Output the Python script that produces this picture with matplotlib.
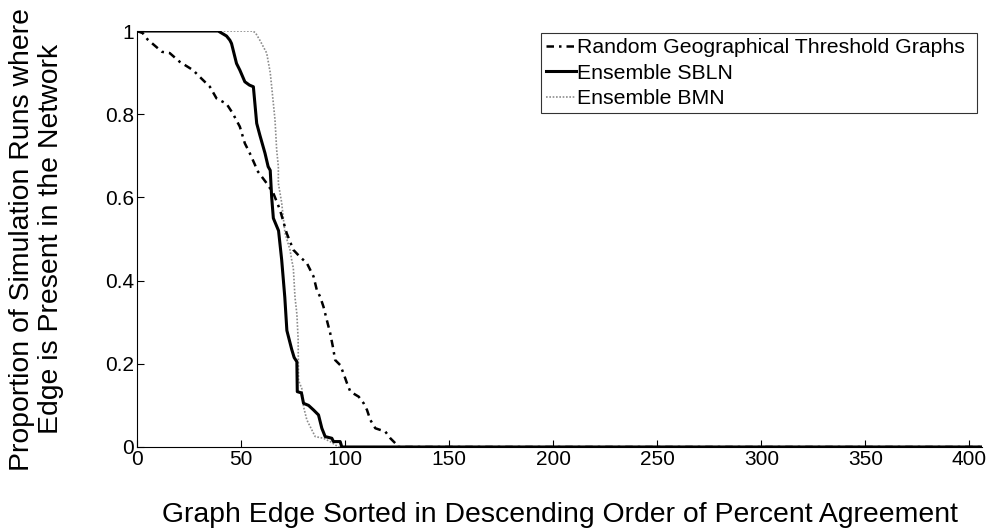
import matplotlib
matplotlib.use('Agg')
import matplotlib.pyplot as plt

plt.rcParams['font.family'] = ['Liberation Sans', 'DejaVu Sans']

N_EDGES = 406

# Random Geographical Threshold Graphs
x_rgtg = [0, 2.7, 5, 9.2, 12, 15.7, 20.5, 26.9, 30.9, 35, 38.2, 43, 46, 49.4, 51.8,
          54.2, 56.7, 57.5, 62.3, 65.5, 68.7, 71.9, 75.1, 78.3, 81.6, 84.8, 86.4, 88,
          89.6, 91.2, 92.8, 94.1, 95.2, 97.6, 99.2, 100.9, 102.5, 106.5, 108.9, 110.5,
          112.1, 114.5, 119.3, 121.7, 124.1, 125, N_EDGES]
y_rgtg = [1, 0.995, 0.98, 0.962, 0.95, 0.947, 0.926, 0.906, 0.886, 0.866, 0.838, 0.825,
          0.802, 0.77, 0.73, 0.706, 0.678, 0.666, 0.634, 0.61, 0.57, 0.514, 0.474, 0.457,
          0.442, 0.41, 0.377, 0.361, 0.337, 0.305, 0.274, 0.241, 0.209, 0.197, 0.177,
          0.153, 0.133, 0.121, 0.105, 0.089, 0.065, 0.045, 0.037, 0.021, 0.009, 0, 0]

# Ensemble SBLN
x_sbln = [0, 39, 43, 44.6, 45.4, 47.8, 49.4, 51.8, 54, 55.9, 57.5, 59, 61.5, 63, 64,
          64.7, 65.5, 68, 69.5, 71, 72, 74.3, 75.5, 76.8, 77, 79, 80, 82.4, 84.8, 87.2,
          88.8, 90.4, 93.6, 94.4, 97.6, 98.4, N_EDGES]
y_sbln = [1, 1, 0.988, 0.978, 0.97, 0.922, 0.906, 0.878, 0.87, 0.866, 0.778, 0.75,
          0.706, 0.674, 0.665, 0.60, 0.55, 0.52, 0.45, 0.36, 0.28, 0.235, 0.215, 0.205,
          0.133, 0.13, 0.105, 0.1, 0.089, 0.077, 0.045, 0.025, 0.021, 0.013, 0.013, 0, 0]

# Ensemble BMN
x_bmn = [0, 55.7, 57, 59, 62.3, 64, 64.7, 66.3, 67.1, 67.9, 67.9, 69.5, 71.1, 73.5,
         74.3, 75.1, 75.9, 76.8, 77.4, 77.6, 79.2, 80, 81.6, 84, 85.6, 89.6, 92.8,
         96.8, N_EDGES]
y_bmn = [1, 1, 0.995, 0.978, 0.947, 0.9, 0.866, 0.786, 0.714, 0.674, 0.634, 0.587,
         0.514, 0.474, 0.45, 0.43, 0.36, 0.32, 0.26, 0.16, 0.14, 0.097, 0.065, 0.041,
         0.025, 0.021, 0.013, 0, 0]

fig = plt.figure(figsize=(9.88, 5.32), dpi=100)
ax = fig.add_axes([0.1387, 0.1598, 0.8552, 0.7819])

l_bmn, = ax.plot(x_bmn, y_bmn, color='#8c8c8c', linestyle=(0, (1, 1)), linewidth=1.2)
l_rgtg, = ax.plot(x_rgtg, y_rgtg, color='black', linestyle=(0, (3, 2, 1, 2)), linewidth=1.8)
l_sbln, = ax.plot(x_sbln, y_sbln, color='black', linestyle='-', linewidth=2.2)

ax.set_xlim(0, N_EDGES)
ax.set_ylim(0, 1)
ax.set_xticks(range(0, 401, 50))
ax.set_yticks([0, 0.2, 0.4, 0.6, 0.8, 1])
ax.set_yticklabels(['0', '0.2', '0.4', '0.6', '0.8', '1'])
ax.tick_params(direction='in', length=5, width=0.8, labelsize=15, pad=2)
ax.spines['top'].set_visible(False)
ax.spines['right'].set_visible(False)
for s in ('left', 'bottom'):
    ax.spines[s].set_linewidth(0.8)

ax.set_xlabel('Graph Edge Sorted in Descending Order of Percent Agreement',
              fontsize=20.4, labelpad=24)
fig.text(0.037, 0.55, 'Proportion of Simulation Runs where\nEdge is Present in the Network',
         rotation=90, ha='center', va='center', multialignment='center',
         fontsize=20.4, linespacing=1.15)

# legend box stretched to the reference width, text kept left
leg = ax.legend([l_rgtg, l_sbln, l_bmn],
                ['Random Geographical Threshold Graphs', 'Ensemble SBLN', 'Ensemble BMN'],
                loc='upper left', bbox_to_anchor=(0.478, 0.995, 0.516, 0.0),
                mode='expand', fontsize=15.3,
                frameon=True, fancybox=False, handlelength=1.4, handletextpad=0.05,
                borderpad=0.25, labelspacing=0.3, borderaxespad=0)
leg.get_frame().set_edgecolor('black')
leg.get_frame().set_linewidth(0.8)

fig.savefig('out.png', dpi=100)
